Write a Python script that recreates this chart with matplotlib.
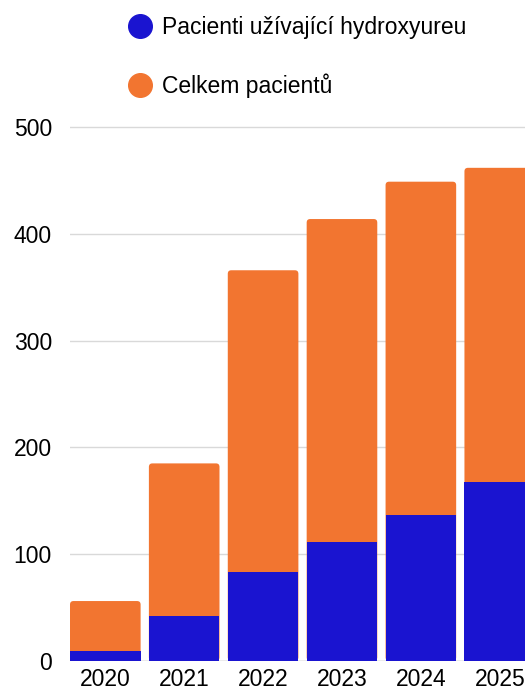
import matplotlib as mpl
mpl.use('Agg')
import matplotlib.pyplot as plt
from matplotlib.lines import Line2D
from matplotlib.patches import FancyBboxPatch

years = ['2020', '2021', '2022', '2023', '2024', '2025']
hydroxyurea = [9, 42, 83, 111, 137, 168]
total = [56, 185, 366, 414, 449, 462]

blue = '#1a14d0'
orange = '#f27530'

plt.rcParams['font.family'] = ['Liberation Sans', 'DejaVu Sans']

fig = plt.figure(figsize=(5.25, 6.88), dpi=100)
# axes box in figure fractions (left, bottom, width, height)
ax = fig.add_axes([70/525., 27.2/688, 1 - 70/525., (660.8 - 116.6)/688])

x = list(range(len(years)))
w = 0.895
xmin, xmax = -w/2, 5.32
ymin, ymax = 0, 510
ax.set_xlim(xmin, xmax)
ax.set_ylim(ymin, ymax)

# orange totals get slightly rounded tops
bars = ax.bar(x, total, width=w, color=orange, zorder=2)
bb = ax.get_position()
px_x = (xmax - xmin) / (bb.width * 525)
px_y = (ymax - ymin) / (bb.height * 688)
for r in bars:
	r.set_visible(False)
	ax.add_patch(FancyBboxPatch((r.get_x(), r.get_y()), r.get_width(), r.get_height(),
		boxstyle='round,pad=0,rounding_size=%f' % (3.5 * px_x),
		mutation_aspect=px_y / px_x, color=orange, linewidth=0, zorder=2))
ax.bar(x, hydroxyurea, width=w, color=blue, zorder=3)

ax.set_yticks([0, 100, 200, 300, 400, 500])
ax.set_xticks(x)
ax.set_xticklabels(years)
ax.tick_params(axis='both', length=0, labelsize=16.5, colors='black')
ax.tick_params(axis='y', pad=13)
ax.tick_params(axis='x', pad=5)
ax.grid(axis='y', color='#d9d9d9', linewidth=1, zorder=0)
ax.set_axisbelow(True)
for s in ax.spines.values():
	s.set_visible(False)
ax.axhline(0, color='#bdbdbd', linewidth=1, zorder=1)

handles = [
	Line2D([], [], linestyle='none', marker='o', markersize=17, color=blue),
	Line2D([], [], linestyle='none', marker='o', markersize=17, color=orange),
]
labels = ['Pacienti užívající hydroxyureu', 'Celkem pacientů']
fig.legend(handles, labels, loc='upper left', bbox_to_anchor=(129/525., 1 - 16/688.),
	frameon=False, fontsize=16.5, handlelength=1.0, handletextpad=0.45,
	labelspacing=1.5, borderpad=0, borderaxespad=0)

fig.savefig('out.png', dpi=100)
